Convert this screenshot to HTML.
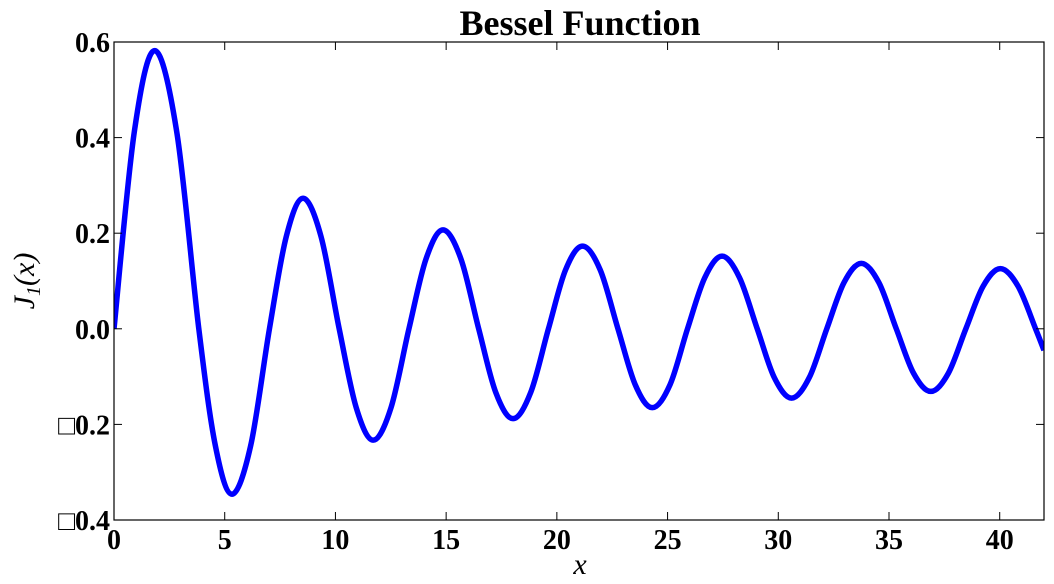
<!DOCTYPE html>
<html><head><meta charset="utf-8">
<style>
html,body{margin:0;padding:0;background:#fff;}
svg{display:block;}
text{font-family:"Liberation Serif",serif;}
</style></head>
<body>
<svg id="chart" width="1054" height="584" viewBox="0 0 1054 584" xmlns="http://www.w3.org/2000/svg">
<text x="580" y="35" text-anchor="middle" font-size="36" font-weight="bold">Bessel Function</text>
<text x="580" y="574" text-anchor="middle" font-size="30" font-style="italic">x</text>
<text transform="translate(34,281) rotate(-90)" text-anchor="middle" font-size="30" font-style="italic">J<tspan font-size="20" dy="6">1</tspan><tspan dy="-6">(x)</tspan></text>
<g id="plot"></g>
</svg>
<script>
const xValues = [0,0.92,1.84,2.84,3.83,4.58,5.33,6.17,7.02,7.78,8.54,9.35,10.17,10.94,11.71,12.51,13.32,14.09,14.86,15.67,16.47,17.24,18.02,18.82,19.62,20.39,21.16,21.96,22.76,23.54,24.31,25.11,25.90,26.68,27.46,28.25,29.05,29.82,30.60,31.40,32.19,32.97,33.75,34.54,35.33,36.11,36.89,37.68,38.47,39.25,40.03,40.83,41.62,42];
const yValues = [0,0.413,0.582,0.41,0,-0.245,-0.346,-0.245,0,0.193,0.273,0.193,0,-0.165,-0.233,-0.165,0,0.146,0.207,0.146,0,-0.133,-0.188,-0.133,0,0.123,0.173,0.123,0,-0.117,-0.165,-0.117,0,0.107,0.152,0.107,0,-0.102,-0.145,-0.102,0,0.097,0.137,0.097,0,-0.093,-0.131,-0.093,0,0.089,0.126,0.089,0,-0.045];
const xTicks = [0,5,10,15,20,25,30,35,40];
const yTicks = [-0.4,-0.2,0.0,0.2,0.4,0.6];
const yTickLabels = ["\u25A10.4","\u25A10.2","0.0","0.2","0.4","0.6"];

const L=114,R=1044,T=42,B=520, xMin=0,xMax=42,yMin=-0.4,yMax=0.6;
const sx=v=>L+(v-xMin)/(xMax-xMin)*(R-L);
const sy=v=>B-(v-yMin)/(yMax-yMin)*(B-T);
const NS="http://www.w3.org/2000/svg";
const g=document.getElementById('plot');
function mk(tag,attrs){const e=document.createElementNS(NS,tag);for(const k in attrs)e.setAttribute(k,attrs[k]);g.appendChild(e);return e;}

const P=xValues.map((x,i)=>[sx(x),sy(yValues[i])]);
let d=`M${P[0][0]},${P[0][1]}`;
for(let i=0;i<P.length-1;i++){
  const p0=P[Math.max(0,i-1)],p1=P[i],p2=P[i+1],p3=P[Math.min(P.length-1,i+2)];
  const c1=[p1[0]+(p2[0]-p0[0])/6,p1[1]+(p2[1]-p0[1])/6];
  const c2=[p2[0]-(p3[0]-p1[0])/6,p2[1]-(p3[1]-p1[1])/6];
  d+=` C${c1[0]},${c1[1]} ${c2[0]},${c2[1]} ${p2[0]},${p2[1]}`;
}
const clip=mk('clipPath',{id:'pc'});
const cr=document.createElementNS(NS,'rect');cr.setAttribute('x',L);cr.setAttribute('y',T-5);cr.setAttribute('width',R-L);cr.setAttribute('height',B-T+10);clip.appendChild(cr);
const line=mk('path',{d:d,fill:'none',stroke:'#0000ff','stroke-width':5.5,'clip-path':'url(#pc)','stroke-linejoin':'round'});



const frame=mk('rect',{x:L,y:T,width:R-L,height:B-T,fill:'none',stroke:'#000','stroke-width':1.2});



xTicks.forEach(v=>{
  const x=sx(v);
  mk('line',{x1:x,y1:B,x2:x,y2:B-8,stroke:'#000','stroke-width':1});
  mk('line',{x1:x,y1:T,x2:x,y2:T+8,stroke:'#000','stroke-width':1});
  const t=mk('text',{x:x,y:B+29,'text-anchor':'middle','font-size':28,'font-weight':'bold'});
  t.textContent=String(v);
  
  
});
yTicks.forEach((v,i)=>{
  const y=sy(v);
  mk('line',{x1:L,y1:y,x2:L+8,y2:y,stroke:'#000','stroke-width':1});
  mk('line',{x1:R,y1:y,x2:R-8,y2:y,stroke:'#000','stroke-width':1});
  const t=mk('text',{x:L-4,y:y+10,'text-anchor':'end','font-size':28,'font-weight':'bold'});
  t.textContent=yTickLabels[i];
  
  
});
</script>
</body></html>
